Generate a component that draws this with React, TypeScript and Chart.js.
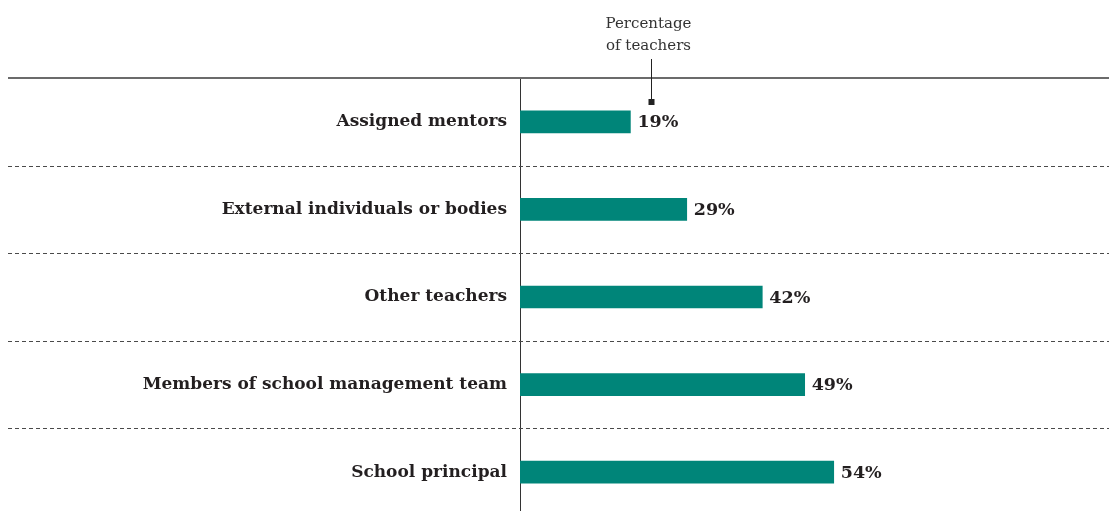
import React, { useEffect, useRef } from "react";
import { Chart, registerables } from "chart.js";

Chart.register(...registerables);

const categories = [
  "Assigned mentors",
  "External individuals or bodies",
  "Other teachers",
  "Members of school management team",
  "School principal",
];
const values = [19, 28.7, 41.7, 49, 54];
const annotationLines = ["Percentage", "of teachers"];

const TEXT = "#231f20";
const BAR = "#008579";
const FONT = "'DejaVu Serif', serif";

const decorPlugin = {
  id: "decor",
  afterDatasetsDraw(chart: any) {
    const { ctx, chartArea, scales } = chart;
    const y = scales.y;
    const W = chart.width;
    ctx.save();
    // top solid line
    ctx.strokeStyle = "#6b6b6b";
    ctx.lineWidth = 2;
    ctx.beginPath();
    ctx.moveTo(8, chartArea.top);
    ctx.lineTo(W, chartArea.top);
    ctx.stroke();
    // dashed separators
    ctx.strokeStyle = "#4a4a4a";
    ctx.lineWidth = 1;
    ctx.setLineDash([4, 3]);
    for (let i = 0; i < categories.length - 1; i++) {
      const py = Math.round((y.getPixelForValue(i) + y.getPixelForValue(i + 1)) / 2) + 0.5;
      ctx.beginPath();
      ctx.moveTo(8, py);
      ctx.lineTo(W, py);
      ctx.stroke();
    }
    ctx.setLineDash([]);
    // value labels
    const meta = chart.getDatasetMeta(0);
    ctx.fillStyle = TEXT;
    ctx.font = `bold 17.5px ${FONT}`;
    ctx.textAlign = "left";
    ctx.textBaseline = "middle";
    meta.data.forEach((bar: any, i: number) => {
      ctx.fillText(`${Math.round(values[i])}%`, bar.x + 7, bar.y + 1);
    });
    // annotation
    const first = meta.data[0];
    const ax = Math.round(first.x + 21) + 0.5;
    ctx.font = `15px ${FONT}`;
    ctx.textAlign = "center";
    ctx.fillStyle = "#333";
    ctx.fillText(annotationLines[0], ax - 3, 24);
    ctx.fillText(annotationLines[1], ax - 3, 46);
    ctx.strokeStyle = "#222";
    ctx.lineWidth = 1;
    ctx.beginPath();
    ctx.moveTo(ax, 59);
    ctx.lineTo(ax, 102);
    ctx.stroke();
    ctx.fillStyle = "#222";
    ctx.fillRect(ax - 3, 99, 6, 6);
    ctx.restore();
  },
};

export default function App() {
  const ref = useRef<HTMLCanvasElement>(null);
  useEffect(() => {
    if (!ref.current) return;
    const chart = new Chart(ref.current, {
      type: "bar",
      data: {
        labels: categories,
        datasets: [
          {
            data: values,
            backgroundColor: BAR,
            barThickness: 22,
          },
        ],
      },
      options: {
        indexAxis: "y",
        animation: false,
        responsive: false,
        maintainAspectRatio: false,
        layout: { padding: { top: 78, right: 8, bottom: 0, left: 8 } },
        plugins: {
          legend: { display: false },
          tooltip: { enabled: false },
        },
        scales: {
          x: { display: false, min: 0, max: 100 },
          y: {
            afterFit(scale: any) {
              scale.width = 512;
              scale.paddingTop = 0;
              scale.paddingBottom = 0;
            },
            grid: { display: false, drawTicks: false },
            border: { display: true, color: "#333", width: 1 },
            ticks: {
              color: TEXT,
              padding: 13,
              font: { family: FONT, size: 17, weight: "bold" },
            },
          },
        },
      },
      plugins: [decorPlugin],
    });
    return () => chart.destroy();
  }, []);
  return (
    <div style={{ position: "fixed", left: 0, top: 0, width: 1109, height: 516, background: "#fff" }}>
      <canvas ref={ref} width={1109} height={516} style={{ display: "block" }} />
    </div>
  );
}
